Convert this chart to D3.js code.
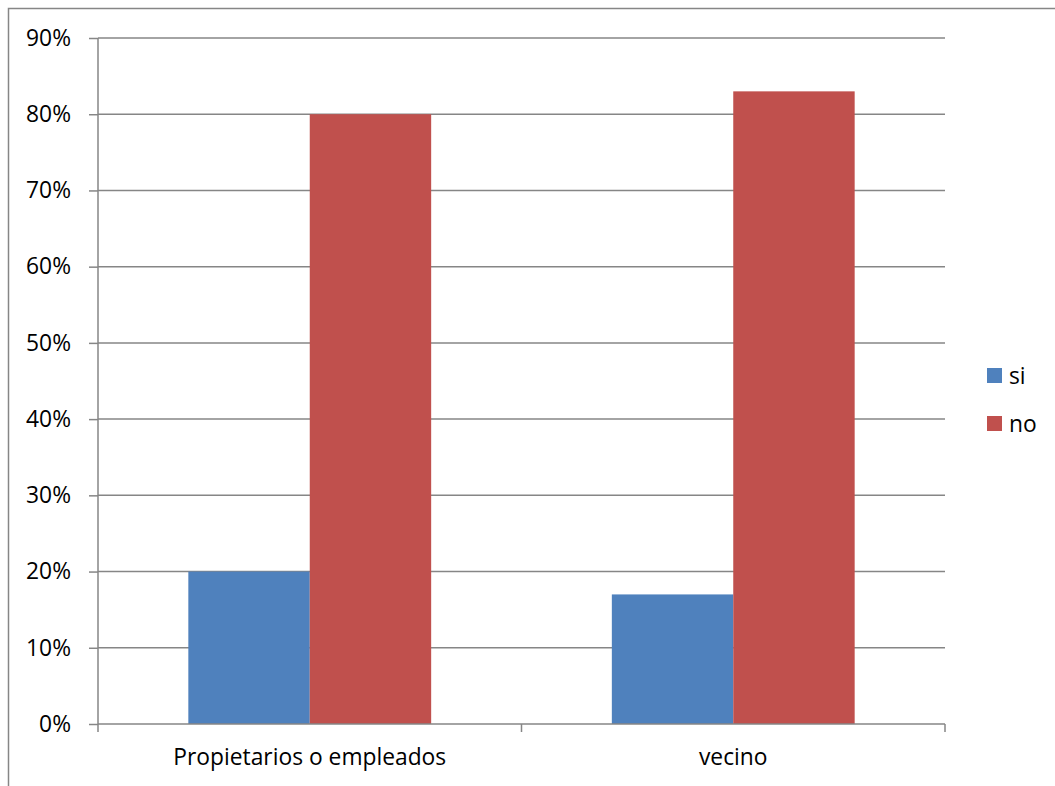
<!DOCTYPE html>
<html><head><meta charset="utf-8">
<script src="https://cdn.jsdelivr.net/npm/d3@7"></script>
<style>body{margin:0;background:#fff}svg{display:block}text{font-family:"Open Sans",sans-serif;fill:#000}</style>
</head><body><svg id="c" width="1055" height="786"></svg>
<script>
const categories = ["Propietarios o empleados", "vecino"];
const seriesNames = ["si", "no"];
const siValues = [0.20, 0.17];
const noValues = [0.80, 0.83];
const yTicks = [0,0.1,0.2,0.3,0.4,0.5,0.6,0.7,0.8,0.9];
const colors = ["#4f81bd", "#c0504d"];
const FONT = "Open Sans", FS = 22.8;

const svg = d3.select("#c");
const L = 98, R = 945, T = 38, B = 724;
svg.append("rect").attr("x",8.5).attr("y",8.5).attr("width",1100).attr("height",1000)
  .attr("fill","none").attr("stroke","#868686").attr("stroke-width",1.5);

const y = d3.scaleLinear().domain([0,0.9]).range([B,T]);
const x0 = d3.scaleBand().domain(categories).range([L,R]);
const x1 = d3.scaleBand().domain(seriesNames).range([0,x0.bandwidth()]).paddingInner(0).paddingOuter(0.744);

svg.append("g").selectAll("line").data(yTicks.slice(1)).join("line")
  .attr("x1",L).attr("x2",R).attr("y1",d=>y(d)).attr("y2",d=>y(d))
  .attr("stroke","#868686").attr("stroke-width",1.5);

const data = categories.map((c,i)=>({c, vals:[siValues[i], noValues[i]]}));
svg.append("g").selectAll("g").data(data).join("g")
  .attr("transform",d=>`translate(${x0(d.c)},0)`)
  .selectAll("rect").data(d=>d.vals.map((v,j)=>({s:seriesNames[j],v,j}))).join("rect")
  .attr("x",d=>x1(d.s)).attr("width",x1.bandwidth())
  .attr("y",d=>y(d.v)).attr("height",d=>B-y(d.v)).attr("fill",d=>colors[d.j]);

const ya = svg.append("g").attr("transform",`translate(${L},0)`)
  .call(d3.axisLeft(y).tickValues(yTicks).tickFormat(d3.format(".0%")).tickSize(9).tickPadding(18));
ya.select(".domain").attr("stroke","#868686").attr("stroke-width",1.5).attr("d",`M0,${T}V${B}`);
ya.selectAll(".tick line").attr("stroke","#868686").attr("stroke-width",1.5);
ya.selectAll(".tick text").attr("font-size",FS).attr("font-family",FONT).attr("fill","#000");

const xa = svg.append("g").attr("transform",`translate(0,${B})`)
  .call(d3.axisBottom(x0).tickSize(0).tickPadding(25));
xa.select(".domain").attr("stroke","#868686").attr("stroke-width",1.5).attr("d",`M${L},0H${R}`);
xa.selectAll(".tick text").attr("font-size",FS).attr("font-family",FONT).attr("fill","#000");
const bounds = [L, ...categories.map(c=>x0(c)+x0.bandwidth())];
xa.append("g").selectAll("line").data(bounds).join("line")
  .attr("x1",d=>d).attr("x2",d=>d).attr("y1",0).attr("y2",8)
  .attr("stroke","#868686").attr("stroke-width",1.5);

const lg = svg.append("g").selectAll("g").data(seriesNames).join("g")
  .attr("transform",(d,i)=>`translate(987,${368+i*48})`);
lg.append("rect").attr("width",15).attr("height",15).attr("fill",(d,i)=>colors[i]);
lg.append("text").attr("x",22).attr("y",8).attr("dy","0.35em").attr("font-size",FS).attr("font-family",FONT).text(d=>d);
</script></body></html>
